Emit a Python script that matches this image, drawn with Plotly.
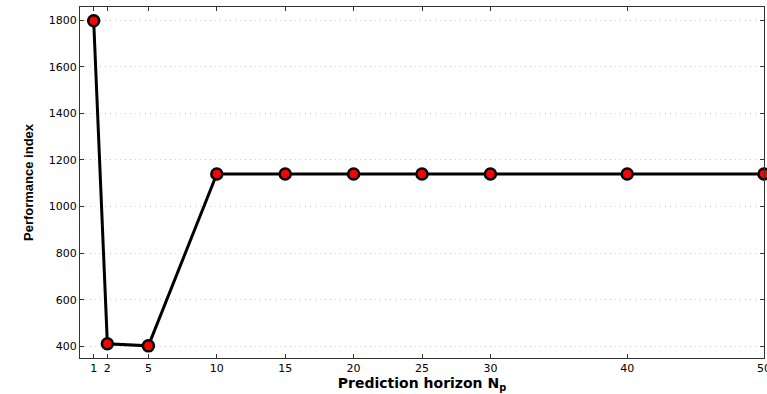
import plotly.graph_objects as go

horizon = [1, 2, 5, 10, 15, 20, 25, 30, 40, 50]
performance = [1797, 412, 403, 1140, 1140, 1140, 1140, 1140, 1140, 1140]
x_ticks = [1, 2, 5, 10, 15, 20, 25, 30, 40, 50]
y_ticks = [400, 600, 800, 1000, 1200, 1400, 1600, 1800]

fig = go.Figure()
fig.add_trace(go.Scatter(
    x=horizon, y=performance, mode="lines+markers",
    line=dict(color="black", width=3),
    marker=dict(color="#ff0000", size=11, line=dict(color="black", width=2.5)),
    cliponaxis=False, showlegend=False,
))

font_ticks = dict(family="DejaVu Sans", size=11, color="black")
fig.update_layout(
    width=767, height=394,
    margin=dict(l=80, r=3, t=7, b=36, autoexpand=False),
    paper_bgcolor="white", plot_bgcolor="white",
    xaxis=dict(
        range=[0, 50], tickvals=x_ticks, ticktext=[str(v) for v in x_ticks],
        ticks="inside", ticklen=4, tickcolor="#333", mirror="ticks",
        showline=True, linecolor="#333", linewidth=1.2, automargin=False,
        ticklabeloverflow="allow",
        showgrid=False, zeroline=False, tickfont=font_ticks,
        title=dict(text="<b>Prediction horizon N<sub>p</sub></b>",
                   font=dict(family="DejaVu Sans", size=14, color="black"),
                   standoff=0),
    ),
    yaxis=dict(
        range=[351, 1856], tickvals=y_ticks,
        ticks="inside", ticklen=4, tickcolor="#333", mirror="ticks",
        showline=True, linecolor="#333", linewidth=1.2, automargin=False,
        showgrid=True, gridcolor="#c8c8c8", griddash="1px,4px", gridwidth=1,
        zeroline=False, tickfont=font_ticks,
        title=dict(text="<b>Performance index</b>",
                   font=dict(family="Liberation Sans Narrow, Arial Narrow, Liberation Sans", size=13, color="black"),
                   standoff=12),
    ),
)
fig.write_html("out.html", config={"displayModeBar": False},
               post_script="document.body.style.margin='0';document.body.style.overflow='hidden';")
